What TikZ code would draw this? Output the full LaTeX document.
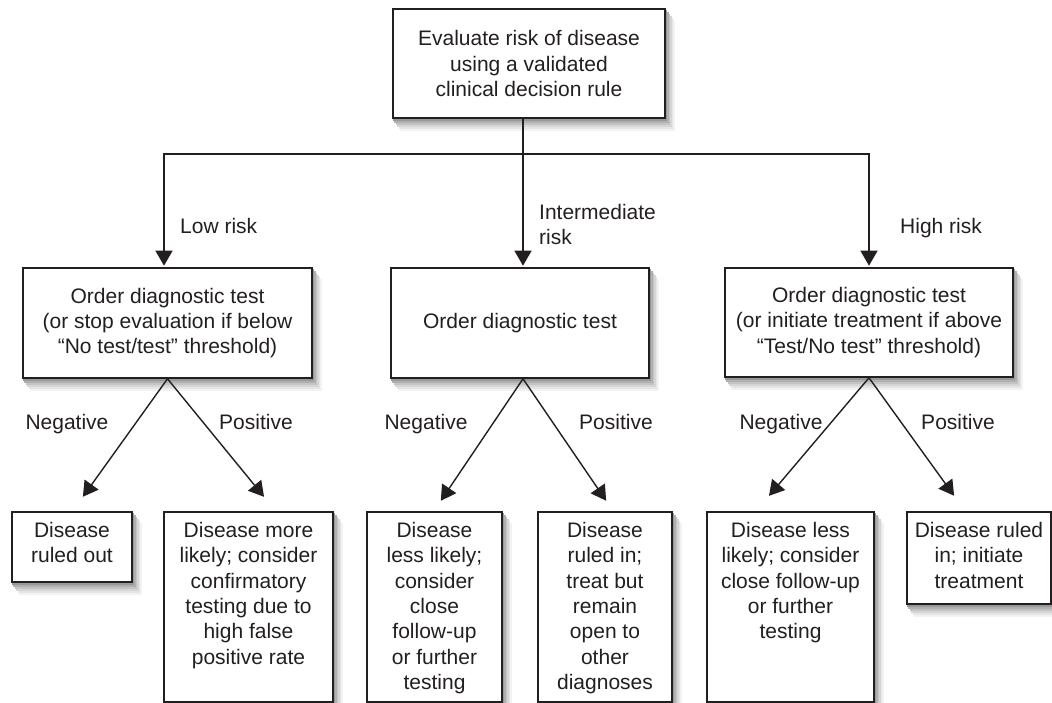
\documentclass[tikz,border=0pt]{standalone}
\usepackage{fontspec}
\setmainfont{Liberation Sans}
\usetikzlibrary{arrows.meta,backgrounds,calc}
\definecolor{ink}{HTML}{231F20}
\definecolor{paper}{RGB}{255,255,255}
\definecolor{sha}{RGB}{242,242,242}
\definecolor{shb}{RGB}{229,229,229}
\definecolor{shc}{RGB}{214,214,214}
\definecolor{shd}{RGB}{196,196,196}
\definecolor{she}{RGB}{176,176,176}
\definecolor{shf}{RGB}{153,153,153}
\begin{document}
\begin{tikzpicture}[x=1pt,y=-1pt,
  every node/.style={font=\fontsize{21}{25.3}\selectfont, text=ink},
  box/.style={draw=ink, line width=1.6pt, fill=paper, rectangle, inner sep=0pt, align=center},
  lab/.style={inner sep=0pt, align=left, anchor=base west},
  blab/.style={inner sep=0pt, anchor=base},
  txt/.style={inner sep=0pt, align=center, anchor=north},
  plain/.style={draw=ink, line width=1.5pt},
  arr/.style={draw=ink, line width=1.4pt, shorten >=1.5pt, -{Triangle[length=15pt,width=17pt]}}]
\useasboundingbox (0,0) rectangle (1052,703);

% top box
\node[box, minimum width=272pt, minimum height=109pt] (top) at (529,63.5)
  {Evaluate risk of disease\\using a validated\\clinical decision rule};

% second level
\node[box, minimum width=289pt, minimum height=110pt] (l2) at (167.5,323)
  {Order diagnostic test\\(or stop evaluation if below\\“No test/test” threshold)};
\node[box, minimum width=258pt, minimum height=110pt] (m2) at (520,323)
  {Order diagnostic test};
\node[box, minimum width=288pt, minimum height=109pt] (r2) at (869,322.5)
  {Order diagnostic test\\(or initiate treatment if above\\“Test/No test” threshold)};

% bottom boxes
\node[box, minimum width=120pt, minimum height=70pt]  (b1) at (72,547) {};
\node[box, minimum width=169pt, minimum height=190pt] (b2) at (248.5,607) {};
\node[box, minimum width=135pt, minimum height=190pt] (b3) at (434.5,607) {};
\node[box, minimum width=134pt, minimum height=190pt] (b4) at (605,607) {};
\node[box, minimum width=167pt, minimum height=190pt] (b5) at (790.5,607) {};
\node[box, minimum width=144pt, minimum height=92pt]  (b6) at (979,558) {};

% soft shadows
\begin{pgfonlayer}{background}
\foreach \n in {top,l2,m2,r2,b1,b2,b3,b4,b5,b6}{
  \foreach \k/\cc in {6/sha,5/shb,4/shc,3/shd,2/she,1/shf}{
    \fill[\cc] ([xshift=1.5*\k pt-1pt,yshift=-2*\k pt]\n.north west) rectangle ([xshift=1.5*\k pt,yshift=-2*\k pt]\n.south east);
  }
}
\end{pgfonlayer}

\node[txt] (b1t) at ([yshift=-11pt]b1.north) {Disease\\ruled out};
\node[txt] (b2t) at ([yshift=-11pt]b2.north) {Disease more\\likely; consider\\confirmatory\\testing due to\\high false\\positive rate};
\node[txt] (b3t) at ([yshift=-11pt]b3.north) {Disease\\less likely;\\consider\\close\\follow-up\\or further\\testing};
\node[txt] (b4t) at ([yshift=-11pt]b4.north) {Disease\\ruled in;\\treat but\\remain\\open to\\other\\diagnoses};
\node[txt] (b5t) at ([yshift=-11pt]b5.north) {Disease less\\likely; consider\\close follow-up\\or further\\testing};
\node[txt] (b6t) at ([yshift=-11pt]b6.north) {Disease ruled\\in; initiate\\treatment};

% risk connectors
\coordinate (jM) at (523,154);
\coordinate (jL) at (164,154);
\coordinate (jR) at (869,154);
\draw[plain] (top.south -| jM) -- (jM);
\draw[arr] (jM) -| (l2.north -| jL);
\draw[arr] (jM) -| (r2.north -| jR);
\draw[arr] (jM) -- (m2.north -| jM);

\node[lab] (lowlab) at (180,233.5) {Low risk};
\node[inner sep=0pt, align=left, anchor=north west] (intlab) at (539,204) {Intermediate\\risk};
\node[lab] (highlab) at (900,233.5) {High risk};

% result connectors
\coordinate (t1) at (82,498);
\coordinate (t2) at (265,498);
\coordinate (t3) at (440,502);
\coordinate (t4) at (607,502);
\coordinate (t5) at (768,497);
\coordinate (t6) at (955,497);
\draw[arr] (l2.south) -- (t1);
\draw[arr] (l2.south) -- (t2);
\draw[arr] ([xshift=3pt]m2.south) -- (t3);
\draw[arr] ([xshift=3pt]m2.south) -- (t4);
\draw[arr] (r2.south) -- (t5);
\draw[arr] (r2.south) -- (t6);

\node[blab] (neg1) at (67,429.5) {Negative};
\node[blab] (pos1) at (256,429.5) {Positive};
\node[blab] (neg2) at (426,429.5) {Negative};
\node[blab] (pos2) at (616,429.5) {Positive};
\node[blab] (neg3) at (781,429.5) {Negative};
\node[blab] (pos3) at (958,429.5) {Positive};
\end{tikzpicture}
\end{document}
